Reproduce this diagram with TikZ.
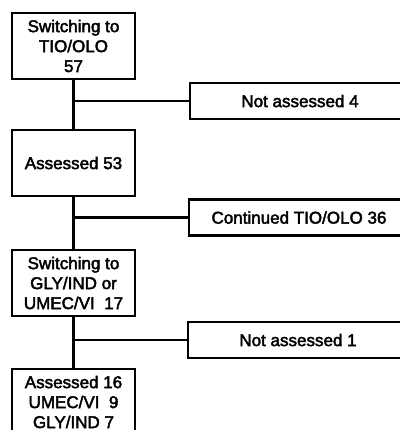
\documentclass[tikz,border=0pt]{standalone}
\usepackage{fontspec}
\setmainfont{Liberation Sans}[BoldFont=Liberation Sans, BoldFeatures={FakeBold=2.5}]
\usetikzlibrary{positioning}

\def\boxw{3.075cm}
\def\sidew{5.5cm}

\begin{document}
\begin{tikzpicture}[x=0.025cm, y=-0.025cm, line width=1.5pt, draw=black]
    \tikzstyle{stagebox}=[rectangle, draw, minimum width=\boxw, minimum height=1.65cm, align=center, inner sep=1pt]
    \tikzstyle{sidebox}=[rectangle, draw, minimum width=\sidew, minimum height=0.9cm, inner sep=1pt]
    \tikzstyle{every node}=[font=\fontsize{12.1}{14.2}\selectfont\bfseries]

    \useasboundingbox (0,0) rectangle (400,430);
    \clip (0,0) rectangle (400,430);

    % Draw the main column
    \node[stagebox] (L-1) at (73.5,46) {Switching to\\TIO/OLO\\57};
    \node[stagebox] (L-2) at (73.5,163) {Assessed 53};
    \node[stagebox] (L-3) at (73.5,283) {Switching to\\GLY/IND or\\UMEC/VI\ \ 17};
    \node[stagebox] (L-4) at (73.5,402) {Assessed 16\\UMEC/VI\ \ 9\\GLY/IND 7};

    % Draw the side boxes
    \node[sidebox] (R-1) at (300,101) {Not assessed 4};
    \node[sidebox] (R-2) at (299,217.5) {Continued TIO/OLO 36};
    \node[sidebox] (R-3) at (298,340) {Not assessed 1};

    % Connect each box in the column with the next one
    \foreach \source/\dest in {1/2,2/3,3/4}
        \draw (L-\source.south) -- (L-\dest.north);

    % Branch off to the side boxes
    \foreach \name in {1,2,3} {
        \coordinate (J-\name) at (L-\name.south |- R-\name.west);
        \draw (J-\name) -- (R-\name.west);
    }
\end{tikzpicture}
\end{document}
